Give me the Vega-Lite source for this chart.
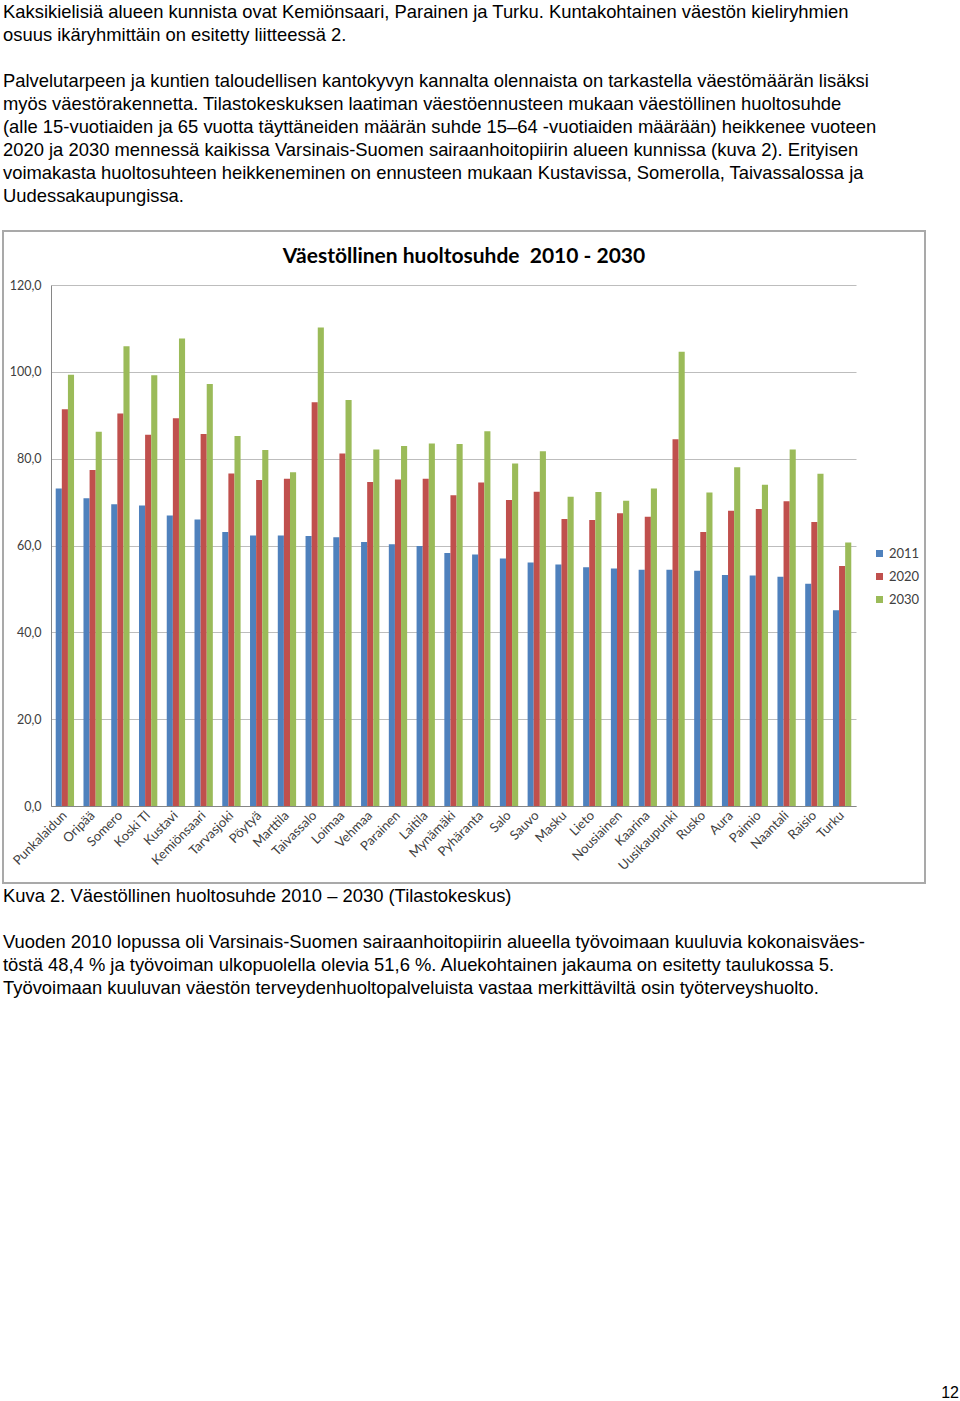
{
  "$schema": "https://vega.github.io/schema/vega-lite/v6.json",
  "background": "white",
  "padding": {"left": 2, "top": 0, "right": 0, "bottom": 0},
  "spacing": 0,
  "config": {"view": {"stroke": null}},
  "datasets": {
    "ylateksti": [
      {"rivi": 1, "teksti": "Kaksikielisiä alueen kunnista ovat Kemiönsaari, Parainen ja Turku. Kuntakohtainen väestön kieliryhmien"},
      {"rivi": 2, "teksti": "osuus ikäryhmittäin on esitetty liitteessä 2."},
      {"rivi": 4, "teksti": "Palvelutarpeen ja kuntien taloudellisen kantokyvyn kannalta olennaista on tarkastella väestömäärän lisäksi"},
      {"rivi": 5, "teksti": "myös väestörakennetta. Tilastokeskuksen laatiman väestöennusteen mukaan väestöllinen huoltosuhde"},
      {"rivi": 6, "teksti": "(alle 15-vuotiaiden ja 65 vuotta täyttäneiden määrän suhde 15–64 -vuotiaiden määrään) heikkenee vuoteen"},
      {"rivi": 7, "teksti": "2020 ja 2030 mennessä kaikissa Varsinais-Suomen sairaanhoitopiirin alueen kunnissa (kuva 2). Erityisen"},
      {"rivi": 8, "teksti": "voimakasta huoltosuhteen heikkeneminen on ennusteen mukaan Kustavissa, Somerolla, Taivassalossa ja"},
      {"rivi": 9, "teksti": "Uudessakaupungissa."}
    ],
    "alateksti": [
      {"rivi": 1, "teksti": "Kuva 2. Väestöllinen huoltosuhde 2010 – 2030 (Tilastokeskus)"},
      {"rivi": 3, "teksti": "Vuoden 2010 lopussa oli Varsinais-Suomen sairaanhoitopiirin alueella työvoimaan kuuluvia kokonaisväes-"},
      {"rivi": 4, "teksti": "töstä 48,4 % ja työvoiman ulkopuolella olevia 51,6 %. Aluekohtainen jakauma on esitetty taulukossa 5."},
      {"rivi": 5, "teksti": "Työvoimaan kuuluvan väestön terveydenhuoltopalveluista vastaa merkittäviltä osin työterveyshuolto."}
    ],
    "huolto": [
      {"kunta": "Punkalaidun", "2011": 73.1, "2020": 91.4, "2030": 99.3},
      {"kunta": "Oripää", "2011": 70.9, "2020": 77.4, "2030": 86.2},
      {"kunta": "Somero", "2011": 69.5, "2020": 90.4, "2030": 105.9},
      {"kunta": "Koski Tl", "2011": 69.2, "2020": 85.5, "2030": 99.2},
      {"kunta": "Kustavi", "2011": 66.9, "2020": 89.3, "2030": 107.7},
      {"kunta": "Kemiönsaari", "2011": 66.0, "2020": 85.7, "2030": 97.2},
      {"kunta": "Tarvasjoki", "2011": 63.1, "2020": 76.6, "2030": 85.2},
      {"kunta": "Pöytyä", "2011": 62.3, "2020": 75.1, "2030": 82.0},
      {"kunta": "Marttila", "2011": 62.3, "2020": 75.4, "2030": 76.9},
      {"kunta": "Taivassalo", "2011": 62.2, "2020": 93.0, "2030": 110.2},
      {"kunta": "Loimaa", "2011": 61.9, "2020": 81.2, "2030": 93.5},
      {"kunta": "Vehmaa", "2011": 60.8, "2020": 74.6, "2030": 82.1},
      {"kunta": "Parainen", "2011": 60.3, "2020": 75.2, "2030": 82.9},
      {"kunta": "Laitila", "2011": 59.9, "2020": 75.4, "2030": 83.5},
      {"kunta": "Mynämäki", "2011": 58.3, "2020": 71.6, "2030": 83.4},
      {"kunta": "Pyhäranta", "2011": 57.9, "2020": 74.5, "2030": 86.3},
      {"kunta": "Salo", "2011": 57.0, "2020": 70.5, "2030": 78.9},
      {"kunta": "Sauvo", "2011": 56.1, "2020": 72.4, "2030": 81.7},
      {"kunta": "Masku", "2011": 55.6, "2020": 66.1, "2030": 71.2},
      {"kunta": "Lieto", "2011": 55.0, "2020": 65.9, "2030": 72.3},
      {"kunta": "Nousiainen", "2011": 54.7, "2020": 67.4, "2030": 70.3},
      {"kunta": "Kaarina", "2011": 54.4, "2020": 66.6, "2030": 73.1},
      {"kunta": "Uusikaupunki", "2011": 54.4, "2020": 84.5, "2030": 104.6},
      {"kunta": "Rusko", "2011": 54.2, "2020": 63.1, "2030": 72.2},
      {"kunta": "Aura", "2011": 53.2, "2020": 68.0, "2030": 78.0},
      {"kunta": "Paimio", "2011": 53.1, "2020": 68.4, "2030": 74.0},
      {"kunta": "Naantali", "2011": 52.8, "2020": 70.2, "2030": 82.1},
      {"kunta": "Raisio", "2011": 51.2, "2020": 65.4, "2030": 76.5},
      {"kunta": "Turku", "2011": 45.1, "2020": 55.3, "2030": 60.7}
    ]
  },
  "vconcat": [
    {
      "width": 958,
      "height": 230,
      "data": {"name": "ylateksti"},
      "mark": {"type": "text", "align": "left", "baseline": "middle", "font": "Liberation Sans", "fontSize": 18.4, "color": "#000000"},
      "encoding": {
        "y": {"field": "rivi", "type": "ordinal", "scale": {"type": "point", "domain": [1, 2, 3, 4, 5, 6, 7, 8, 9, 10], "padding": 0.5}, "axis": null},
        "x": {"datum": 0, "type": "quantitative", "scale": {"domain": [0, 1]}, "axis": null},
        "text": {"field": "teksti", "type": "nominal"}
      }
    },
    {
      "width": 922,
      "height": 652,
      "view": {"stroke": "#a9a9a9", "strokeWidth": 2},
      "title": {"text": "Väestöllinen huoltosuhde\u00a0\u00a02010 - 2030", "font": "Lato", "fontSize": 21, "fontWeight": "bold", "anchor": "middle", "offset": -36, "color": "#000000"},
      "data": {"name": "huolto"},
      "transform": [{"fold": ["2011", "2020", "2030"], "as": ["vuosi", "arvo"]}],
      "mark": {"type": "bar"},
      "encoding": {
        "x": {
          "field": "kunta", "type": "nominal", "sort": null,
          "scale": {"range": [48, 853], "paddingInner": 0.34, "paddingOuter": 0.17},
          "axis": {"title": null, "offset": -77, "labelAngle": -45, "labelAlign": "right", "labelBaseline": "middle", "ticks": false, "labelPadding": 7, "domainColor": "#868686", "labelFont": "Lato", "labelFontSize": 13, "labelColor": "#404040"}
        },
        "xOffset": {"field": "vuosi", "type": "nominal", "scale": {"paddingInner": 0, "paddingOuter": 0}},
        "y": {
          "field": "arvo", "type": "quantitative",
          "scale": {"domain": [0, 120], "range": [575, 54], "nice": false, "zero": true},
          "axis": {"title": null, "values": [0, 20, 40, 60, 80, 100, 120], "labelExpr": "replace(format(datum.value, '.1f'), '.', ',')", "offset": -48, "ticks": false, "labelPadding": 10, "domainColor": "#868686", "grid": true, "gridColor": "#bdbdbd", "labelFont": "Lato", "labelFontSize": 12.5, "labelColor": "#404040"}
        },
        "color": {
          "field": "vuosi", "type": "nominal",
          "scale": {"domain": ["2011", "2020", "2030"], "range": ["#4F81BD", "#C0504D", "#9BBB59"]},
          "legend": {"title": null, "orient": "none", "legendX": 870, "legendY": 547, "symbolType": "square", "symbolSize": 49, "symbolStrokeWidth": 0, "rowPadding": 9, "labelFont": "Lato", "labelFontSize": 13, "labelColor": "#404040", "labelOffset": 3}
        }
      }
    },
    {
      "width": 956,
      "height": 483,
      "title": {"text": "12", "orient": "bottom", "anchor": "end", "baseline": "top", "offset": 18, "font": "Liberation Sans", "fontSize": 16, "fontWeight": "normal", "color": "#000000"},
      "data": {"name": "alateksti"},
      "mark": {"type": "text", "align": "left", "baseline": "middle", "font": "Liberation Sans", "fontSize": 18.4, "color": "#000000"},
      "encoding": {
        "y": {"field": "rivi", "type": "ordinal", "scale": {"type": "point", "domain": [1, 2, 3, 4, 5, 6, 7, 8, 9, 10, 11, 12, 13, 14, 15, 16, 17, 18, 19, 20, 21], "padding": 0.5}, "axis": null},
        "x": {"datum": 0, "type": "quantitative", "scale": {"domain": [0, 1]}, "axis": null},
        "text": {"field": "teksti", "type": "nominal"}
      }
    }
  ]
}
